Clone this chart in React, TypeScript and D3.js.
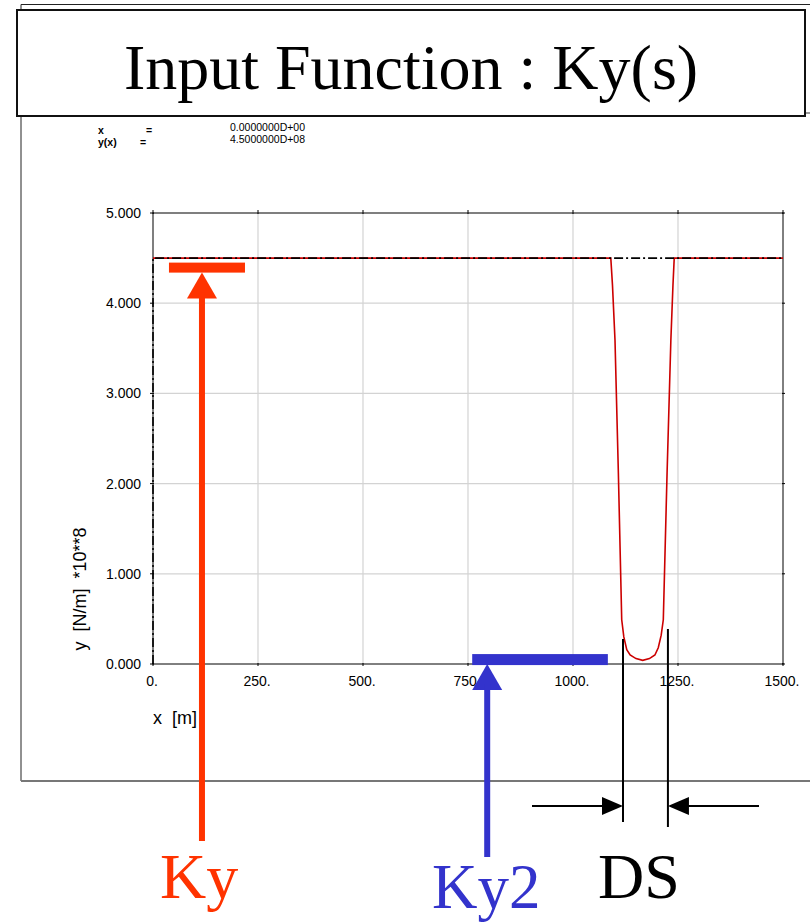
import React from "react";
import * as d3 from "d3";

// Input function Ky(s): spring stiffness along the track [10^8 N/m]
const sValues = [0, 1090, 1094, 1100, 1108, 1116, 1121, 1128, 1136, 1150, 1166, 1182, 1195, 1203, 1210, 1215, 1224, 1233, 1238, 1241, 1500];
const kyValues = [4.5, 4.5, 4.2, 3.59, 2.12, 0.49, 0.3, 0.16, 0.1, 0.06, 0.04, 0.06, 0.1, 0.18, 0.32, 0.49, 2.12, 3.59, 4.2, 4.5, 4.5];

// Reference (dash-dot) path: nominal stiffness Ky
const refS = [0, 0, 1500];
const refK = [0, 4.5, 4.5];

const xTicks = [0, 250, 500, 750, 1000, 1250, 1500];
const xTickLabels = ["0.", "250.", "500.", "750.", "1000.", "1250.", "1500."];
const yTicks = [0, 1, 2, 3, 4, 5];
const yTickLabels = ["0.000", "1.000", "2.000", "3.000", "4.000", "5.000"];

// Annotation spans in data units
const kyBar = [38, 219];
const ky2Bar = [760, 1083];
const dsSpan = [1119, 1226];

const infoLabels = ["x", "y(x)"];
const infoValues = ["0.0000000D+00", "4.5000000D+08"];

const serif = "'Liberation Serif', 'Times New Roman', serif";
const narrow = "'Liberation Sans Narrow', 'Liberation Sans', Arial, sans-serif";

export default function App() {
  const W = 810;
  const H = 923;
  const x = d3.scaleLinear().domain([0, 1500]).range([153, 783]);
  const y = d3.scaleLinear().domain([0, 5]).range([664, 213]);

  const curve = d3
    .line<number>()
    .x((_, i) => x(sValues[i]))
    .y((d) => y(d))
    .curve(d3.curveLinear)(kyValues) as string;

  const ref = d3
    .line<number>()
    .x((_, i) => x(refS[i]))
    .y((d) => y(d))(refK) as string;

  const red = "#ff3300";
  const blue = "#3333cc";

  const kyCx = (x(kyBar[0]) + x(kyBar[1])) / 2 - 5;
  const ky2Cx = x(ky2Bar[0]) + 15;
  const dsL = x(dsSpan[0]);
  const dsR = x(dsSpan[1]);

  return (
    <svg
      width={W}
      height={H}
      viewBox={`0 0 ${W} ${H}`}
      style={{ position: "absolute", left: 0, top: 0, background: "#fff" }}
    >
      {/* outer page frame */}
      <line x1={21} y1={4.5} x2={810} y2={4.5} stroke="#222" strokeWidth={1} />
      <line x1={21} y1={4.5} x2={21} y2={781} stroke="#222" strokeWidth={1} />
      <line x1={21} y1={781} x2={810} y2={781} stroke="#777" strokeWidth={2} />
      <line x1={805} y1={113} x2={810} y2={113} stroke="#777" strokeWidth={1.5} />

      {/* title box */}
      <rect x={17} y={10} width={788} height={106} fill="#fff" stroke="#111" strokeWidth={2} />
      <text x={411} y={89} textAnchor="middle" fontFamily={serif} fontSize={64} fill="#000">
        Input Function : Ky(s)
      </text>

      {/* cursor readout */}
      {infoLabels.map((l, i) => (
        <g key={l} fontFamily="Arial, sans-serif" fontSize={10.5}>
          <text x={98} y={134 + i * 12} fontWeight="bold">{l}</text>
          <text x={i === 0 ? 146 : 140} y={134 + i * 12} fontWeight="bold">=</text>
          <text x={230} y={131 + i * 12}>{infoValues[i]}</text>
        </g>
      ))}

      {/* grid */}
      {xTicks.slice(1, -1).map((t) => (
        <line key={"gx" + t} x1={x(t)} x2={x(t)} y1={y(5)} y2={y(0)} stroke="#d3d3d3" strokeWidth={1.2} />
      ))}
      {yTicks.slice(1, -1).map((t) => (
        <line key={"gy" + t} x1={x(0)} x2={x(1500)} y1={y(t)} y2={y(t)} stroke="#d3d3d3" strokeWidth={1.2} />
      ))}

      {/* plot frame */}
      <rect x={x(0)} y={y(5)} width={x(1500) - x(0)} height={y(0) - y(5)} fill="none" stroke="#000" strokeWidth={1} />
      {xTicks.map((t) => (
        <g key={"tx" + t}>
          <line x1={x(t)} x2={x(t)} y1={y(5) - 3} y2={y(5) + 1} stroke="#000" />
          <line x1={x(t)} x2={x(t)} y1={y(0) - 1} y2={y(0) + 2} stroke="#000" />
        </g>
      ))}
      {yTicks.map((t) => (
        <g key={"ty" + t}>
          <line x1={x(0) - 3} x2={x(0) + 1} y1={y(t)} y2={y(t)} stroke="#000" />
          <line x1={x(1500) - 1} x2={x(1500) + 2} y1={y(t)} y2={y(t)} stroke="#000" />
        </g>
      ))}

      {/* tick labels */}
      {yTicks.map((t, i) => (
        <text key={"ly" + t} x={141} y={y(t) + 5} textAnchor="end" fontFamily={narrow} fontSize={14} fill="#000">
          {yTickLabels[i]}
        </text>
      ))}
      {xTicks.map((t, i) => (
        <text key={"lx" + t} x={x(t) - 1} y={686} textAnchor="middle" fontFamily={narrow} fontSize={14} fill="#000">
          {xTickLabels[i]}
        </text>
      ))}

      {/* axis titles */}
      <text x={153} y={724} fontFamily={narrow} fontSize={18} fill="#000" xmlSpace="preserve">
        {"x  [m]"}
      </text>
      <text
        transform="translate(86,589) rotate(-90)"
        textAnchor="middle"
        fontFamily={narrow}
        fontSize={18}
        fill="#000"
        xmlSpace="preserve"
      >
        {"y  [N/m]  *10**8"}
      </text>

      {/* data */}
      <path d={curve} fill="none" stroke="#cc0000" strokeWidth={1.6} />
      <path d={ref} fill="none" stroke="#000" strokeWidth={1.6} strokeDasharray="9,3,2,3" />

      {/* Ky marker */}
      <rect x={x(kyBar[0])} y={y(4.45)} width={x(kyBar[1]) - x(kyBar[0])} height={10} fill={red} />
      <path d={`M${kyCx},${y(4.45) + 10} L${kyCx - 15},${y(4.45) + 36} L${kyCx + 15},${y(4.45) + 36} Z`} fill={red} />
      <line x1={kyCx} x2={kyCx} y1={y(4.45) + 30} y2={841} stroke={red} strokeWidth={6} />
      <text x={160} y={898} fontFamily={serif} fontSize={64} fill={red}>Ky</text>

      {/* Ky2 marker */}
      <rect x={x(ky2Bar[0])} y={y(0.11)} width={x(ky2Bar[1]) - x(ky2Bar[0])} height={11} fill={blue} />
      <path d={`M${ky2Cx},${y(0.11) + 10} L${ky2Cx - 15},${y(0.11) + 36} L${ky2Cx + 15},${y(0.11) + 36} Z`} fill={blue} />
      <line x1={ky2Cx} x2={ky2Cx} y1={y(0.11) + 30} y2={857} stroke={blue} strokeWidth={6} />
      <text x={432} y={908} fontFamily={serif} fontSize={63} fill={blue}>Ky2</text>

      {/* DS dimension */}
      <line x1={dsL} x2={dsL} y1={639} y2={822} stroke="#000" strokeWidth={2} />
      <line x1={dsR} x2={dsR} y1={629} y2={827} stroke="#000" strokeWidth={2} />
      <line x1={532} x2={dsL - 10} y1={806} y2={806} stroke="#000" strokeWidth={2} />
      <path d={`M${dsL},806 L${dsL - 21},797 L${dsL - 21},815 Z`} fill="#000" />
      <line x1={dsR + 10} x2={759} y1={806} y2={806} stroke="#000" strokeWidth={2} />
      <path d={`M${dsR},806 L${dsR + 21},797 L${dsR + 21},815 Z`} fill="#000" />
      <text x={598} y={898} fontFamily={serif} fontSize={64} fill="#000">DS</text>
    </svg>
  );
}
